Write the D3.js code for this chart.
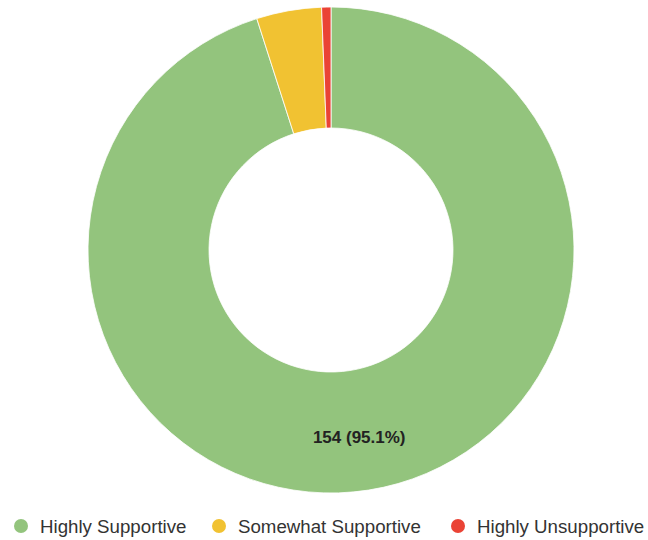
<!DOCTYPE html>
<html>
<head>
<meta charset="utf-8">
<script src="https://cdn.jsdelivr.net/npm/d3@7"></script>
<style>
  body { margin: 0; background: #fff; }
  svg { display: block; font-family: "Liberation Sans", Arial, sans-serif; }
</style>
</head>
<body>
<div id="chart"></div>
<script>
// Survey responses
const categories = ['Highly Supportive', 'Somewhat Supportive', 'Highly Unsupportive'];
const counts = [154, 7, 1];
const colors = ['#93c47d', '#f1c232', '#ea4335'];

const width = 648;
const height = 540;
const cx = 331, cy = 250;
const outerR = 243, innerR = 122;

const svg = d3.select('#chart')
    .append('svg')
    .attr('width', width)
    .attr('height', height);

const data = categories.map((c, i) => ({ name: c, value: counts[i], color: colors[i] }));
const total = d3.sum(counts);

const pie = d3.pie()
    .value(d => d.value)
    .sort(null);

const arc = d3.arc()
    .innerRadius(innerR)
    .outerRadius(outerR);

const g = svg.append('g')
    .attr('transform', `translate(${cx},${cy})`);

const arcs = pie(data);

g.selectAll('path')
    .data(arcs)
    .enter().append('path')
    .attr('d', arc)
    .attr('fill', d => d.data.color)
    .attr('stroke', '#fff')
    .attr('stroke-width', 0.8);

// Label only the big slice (small slices are unlabeled in the original)
g.selectAll('text.slice-label')
    .data(arcs.filter(d => d.data.value / total > 0.1))
    .enter().append('text')
    .attr('class', 'slice-label')
    .attr('transform', d => `translate(${arc.centroid(d)})`)
    .attr('dy', '0.75em')
    .style('text-anchor', 'middle')
    .style('font-size', '17px')
    .style('font-weight', 'bold')
    .style('fill', '#222')
    .text(d => `${d.data.value} (${(d.data.value / total * 100).toFixed(1)}%)`);

// Legend
const legend = svg.append('g')
    .attr('transform', `translate(0, 526)`);

const legendX = [21, 219, 458];

const items = legend.selectAll('g.item')
    .data(data)
    .enter().append('g')
    .attr('class', 'item')
    .attr('transform', (d, i) => `translate(${legendX[i]},0)`);

items.append('circle')
    .attr('r', 7)
    .attr('fill', d => d.color);

items.append('text')
    .attr('x', 19)
    .attr('dy', '0.36em')
    .style('font-size', '18.7px')
    .style('fill', '#333')
    .text(d => d.name);
</script>
</body>
</html>
